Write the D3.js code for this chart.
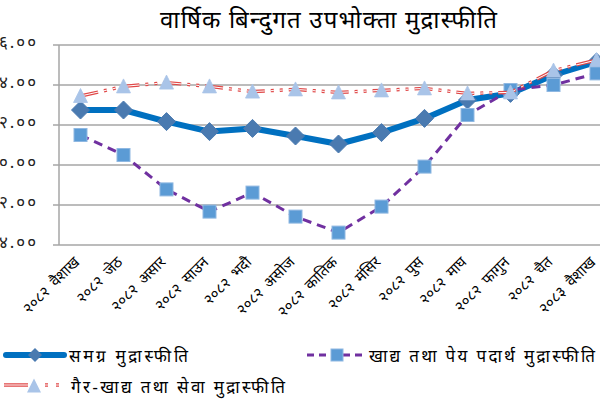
<!DOCTYPE html>
<html>
<head>
<meta charset="utf-8">
<script src="https://cdn.jsdelivr.net/npm/d3@7"></script>
<style>
  body { margin: 0; background: #fff; }
  svg { display: block; font-family: "Noto Sans Devanagari", "Lohit Devanagari", "FreeSans", "Noto Sans", sans-serif; }
</style>
</head>
<body>
<svg id="chart" width="600" height="400"></svg>
<script>
const title = "वार्षिक बिन्दुगत उपभोक्ता मुद्रास्फीति";
const categories = ["२०८२ वैशाख","२०८२ जेठ","२०८२ असार","२०८२ साउन","२०८२ भदौ","२०८२ असोज","२०८२ कातिक","२०८२ मंसिर","२०८२ पुस","२०८२ माघ","२०८२ फागुन","२०८२ चैत","२०८३ वैशाख"];
const overall = [2.75, 2.75, 2.17, 1.67, 1.83, 1.45, 1.05, 1.62, 2.33, 3.25, 3.58, 4.5, 5.15];
const food    = [1.5, 0.5, -1.22, -2.33, -1.38, -2.58, -3.38, -2.08, -0.08, 2.5, 3.75, 4.0, 4.58];
const nonfood = [3.45, 3.93, 4.12, 3.93, 3.67, 3.78, 3.63, 3.73, 3.83, 3.58, 3.63, 4.72, 5.25];
const yTicks = [-4, -2, 0, 2, 4, 6];
const seriesNames = ["समग्र मुद्रास्फीति", "खाद्य तथा पेय पदार्थ मुद्रास्फीति", "गैर-खाद्य तथा सेवा मुद्रास्फीति"];

const devDigits = "०१२३४५६७८९";
const toDev = s => s.replace(/[0-9]/g, d => devDigits[+d]);

const svg = d3.select("#chart");
const x = d3.scalePoint().domain(categories).range([59, 618]).padding(0.5);
const y = d3.scaleLinear().domain([-4, 6]).range([245, 45]);

// title
svg.append("text").attr("x", 160).attr("y", 28)
  .attr("font-size", 24).attr("fill", "#000")
  .attr("textLength", 337).attr("lengthAdjust", "spacing").text(title);

// gridlines
svg.append("g").selectAll("line").data(yTicks).join("line")
  .attr("x1", 53).attr("x2", 600)
  .attr("y1", d => y(d)).attr("y2", d => y(d))
  .attr("stroke", "#a6a6a6").attr("stroke-width", 1.5);
// left axis line
svg.append("line").attr("x1", 59).attr("x2", 59).attr("y1", y(6)).attr("y2", y(-4))
  .attr("stroke", "#a6a6a6").attr("stroke-width", 1.5);

// y labels
svg.append("g").selectAll("text").data(yTicks).join("text")
  .attr("x", 38).attr("y", d => y(d)).attr("dy", "0.2em")
  .attr("text-anchor", "end").attr("font-size", 17).attr("letter-spacing", 2).attr("fill", "#222")
  .text(d => toDev(d3.format(".2f")(d)));

// x labels
svg.append("g").selectAll("text").data(categories).join("text")
  .attr("text-anchor", "end").attr("font-size", 15).attr("word-spacing", 3).attr("fill", "#000")
  .attr("transform", d => `translate(${x(d)},${263}) rotate(-45)`)
  .text(d => d);

const line = d3.line().x((d, i) => x(categories[i])).y(d => y(d));

// overall series
svg.append("path").datum(overall).attr("d", line).attr("fill", "none")
  .attr("stroke", "#0070c0").attr("stroke-width", 6).attr("stroke-linejoin", "round");
function diamondPath(s) { return `M0,${-s}L${s},0L0,${s}L${-s},0Z`; }
svg.append("g").selectAll("path").data(overall).join("path")
  .attr("d", diamondPath(9))
  .attr("transform", (d, i) => `translate(${x(categories[i])},${y(d)})`)
  .attr("fill", "#4a7ab0").attr("stroke", "#4a7ab0").attr("stroke-width", 1);

// food series
svg.append("path").datum(food).attr("d", line).attr("fill", "none")
  .attr("stroke", "#7030a0").attr("stroke-width", 3).attr("stroke-dasharray", "9,6");
svg.append("g").selectAll("rect").data(food).join("rect")
  .attr("x", (d, i) => x(categories[i]) - 6.5).attr("y", d => y(d) - 6.5)
  .attr("width", 13).attr("height", 13)
  .attr("fill", "#5b9bd5").attr("stroke", "#8fb8e2").attr("stroke-width", 1);

// non-food series: double red dash-dot-dot
const nfDash = "18,6,3,6,3,6";
svg.append("path").datum(nonfood).attr("d", line).attr("fill", "none")
  .attr("stroke", "#e04848").attr("stroke-width", 3.4).attr("stroke-dasharray", nfDash);
svg.append("path").datum(nonfood).attr("d", line).attr("fill", "none")
  .attr("stroke", "#fff").attr("stroke-width", 1).attr("stroke-dasharray", nfDash);
function triPath(w, h) { return `M0,${-h/2 - 1}L${w/2},${h/2}L${-w/2},${h/2}Z`; }
svg.append("g").selectAll("path").data(nonfood).join("path")
  .attr("d", triPath(14, 13))
  .attr("transform", (d, i) => `translate(${x(categories[i])},${y(d)})`)
  .attr("fill", "#a9c4e8").attr("stroke", "#a9c4e8").attr("stroke-width", 0.8);

// legend
const lg = svg.append("g");
// row 1, overall
lg.append("line").attr("x1", 6).attr("x2", 64).attr("y1", 355).attr("y2", 355)
  .attr("stroke", "#0070c0").attr("stroke-width", 6).attr("stroke-linecap", "round");
lg.append("path").attr("d", diamondPath(7)).attr("transform", "translate(35,355)").attr("fill", "#4a7ab0");
lg.append("text").attr("x", 69).attr("y", 362).attr("font-size", 17)
  .attr("textLength", 119).attr("lengthAdjust", "spacing").text(seriesNames[0]);
// row 1, food
lg.append("line").attr("x1", 307).attr("x2", 366).attr("y1", 355).attr("y2", 355)
  .attr("stroke", "#7030a0").attr("stroke-width", 3).attr("stroke-dasharray", "7,5");
lg.append("rect").attr("x", 331).attr("y", 349).attr("width", 12).attr("height", 12)
  .attr("fill", "#5b9bd5").attr("stroke", "#8fb8e2");
lg.append("text").attr("x", 369).attr("y", 362).attr("font-size", 17)
  .attr("textLength", 226).attr("lengthAdjust", "spacing").text(seriesNames[1]);
// row 2, non-food
const lgDash = "24,17,3,8,3,40";
lg.append("line").attr("x1", 4).attr("x2", 66).attr("y1", 385).attr("y2", 385)
  .attr("stroke", "#e04848").attr("stroke-width", 3.4).attr("stroke-dasharray", lgDash);
lg.append("line").attr("x1", 4).attr("x2", 66).attr("y1", 385).attr("y2", 385)
  .attr("stroke", "#fff").attr("stroke-width", 1).attr("stroke-dasharray", lgDash);
lg.append("path").attr("d", triPath(14, 13)).attr("transform", "translate(34,386)").attr("fill", "#a9c4e8");
lg.append("text").attr("x", 71).attr("y", 393).attr("font-size", 17)
  .attr("textLength", 214).attr("lengthAdjust", "spacing").text(seriesNames[2]);
</script>
</body>
</html>
